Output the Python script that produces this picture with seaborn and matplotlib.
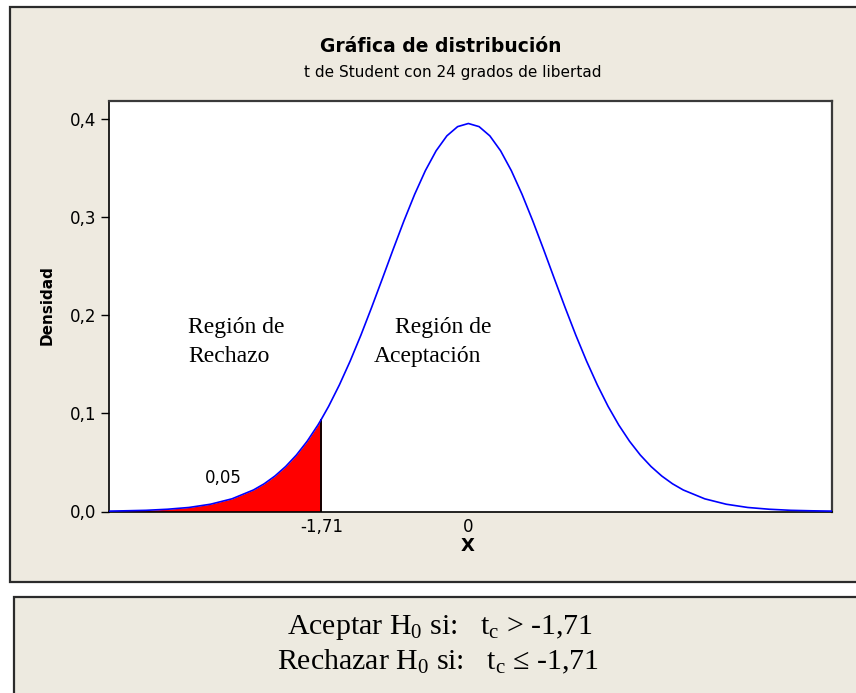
import matplotlib
matplotlib.use("Agg")
import matplotlib.pyplot as plt
import seaborn as sns
from matplotlib.patches import Rectangle

# ---------------- data ----------------
t_values = [-4.18, -4.0, -3.75, -3.5, -3.25, -3.0, -2.75, -2.5, -2.375, -2.25,
            -2.125, -2.0, -1.875, -1.75, -1.71, -1.625, -1.5, -1.375, -1.25,
            -1.125, -1.0, -0.875, -0.75, -0.625, -0.5, -0.375, -0.25, -0.125,
            0.0, 0.125, 0.25, 0.375, 0.5, 0.625, 0.75, 0.875, 1.0, 1.125, 1.25,
            1.375, 1.5, 1.625, 1.75, 1.875, 2.0, 2.125, 2.25, 2.375, 2.5, 2.75,
            3.0, 3.25, 3.5, 3.75, 4.0, 4.23]
density = [0.0004, 0.0007, 0.0012, 0.0023, 0.0041, 0.0074, 0.0129, 0.0219, 0.0282, 0.0361,
           0.0458, 0.0575, 0.0715, 0.0880, 0.0939, 0.1071, 0.1289, 0.1531, 0.1795,
           0.2078, 0.2371, 0.2668, 0.2957, 0.3228, 0.3470, 0.3672, 0.3824, 0.3918,
           0.3950, 0.3918, 0.3824, 0.3672, 0.3470, 0.3228, 0.2957, 0.2668, 0.2371, 0.2078, 0.1795,
           0.1531, 0.1289, 0.1071, 0.0880, 0.0715, 0.0575, 0.0458, 0.0361, 0.0282, 0.0219, 0.0129,
           0.0074, 0.0041, 0.0023, 0.0012, 0.0007, 0.0004]
critical_t = -1.71
alpha_text = "0,05"
x_tick_values = [-1.71, 0]
x_tick_labels = ["-1,71", "0"]
y_tick_values = [0.0, 0.1, 0.2, 0.3, 0.4]
y_tick_labels = ["0,0", "0,1", "0,2", "0,3", "0,4"]

title_text = "Gráfica de distribución"
subtitle_text = "t de Student con 24 grados de libertad"
ylabel_text = "Densidad"
xlabel_text = "X"

# ---------------- style ----------------
sns.set_style("white")
plt.rcParams["font.family"] = ["DejaVu Sans"]
plt.rcParams["text.color"] = "black"
plt.rcParams["xtick.color"] = "black"
plt.rcParams["ytick.color"] = "black"
plt.rcParams["axes.labelcolor"] = "black"
plt.rcParams["mathtext.fontset"] = "custom"
plt.rcParams["mathtext.rm"] = "Liberation Serif"
plt.rcParams["mathtext.it"] = "Liberation Serif:italic"
plt.rcParams["mathtext.bf"] = "Liberation Serif:bold"

W, H = 856, 693
BEIGE = "#EEEAE0"
BEIGE2 = "#EDEAE0"

def fx(px):
    return px / W

def fy(py):
    return 1 - py / H

fig = plt.figure(figsize=(W / 100, H / 100), dpi=100)
fig.patch.set_facecolor("white")

# outer graph frame
fig.add_artist(Rectangle((fx(10), fy(582)), 1.2, fy(7) - fy(582),
                         transform=fig.transFigure, facecolor=BEIGE,
                         edgecolor="#2b2b2b", lw=1.6, zorder=-2))
# bottom text box
fig.add_artist(Rectangle((fx(14), fy(760)), 1.2, fy(597) - fy(760),
                         transform=fig.transFigure, facecolor=BEIGE2,
                         edgecolor="#2b2b2b", lw=1.6, zorder=-2))

ax = fig.add_axes([fx(109), fy(511.5), fx(832) - fx(109), fy(100.7) - fy(511.5)])
ax.set_facecolor("white")

# rejection region
t_rej = [t for t in t_values if t <= critical_t]
d_rej = [d for t, d in zip(t_values, density) if t <= critical_t]
ax.fill_between(t_rej, 0, d_rej, color="#FF0000", lw=0, zorder=2)
ax.vlines(critical_t, 0, d_rej[-1], color="black", lw=1.3, zorder=3)

sns.lineplot(x=t_values, y=density, color="#0000FF", lw=1.2, ax=ax, zorder=4)

ax.set_xlim(t_values[0], t_values[-1])
ax.set_ylim(0, 0.4182)
ax.set_xticks(x_tick_values, x_tick_labels)
ax.set_yticks(y_tick_values, y_tick_labels)
ax.tick_params(axis="x", bottom=False, length=0, pad=5, labelsize=12, labelcolor="black")
ax.tick_params(axis="y", left=True, length=5.5, width=1.0, pad=3.5,
               direction="out", labelsize=12, color="black", labelcolor="black")
ax.set_xlabel("")
ax.set_ylabel("")

for side in ["left", "bottom"]:
    ax.spines[side].set_color("black")
    ax.spines[side].set_linewidth(1.2)
for side in ["top", "right"]:
    ax.spines[side].set_color("#3a3a3a")
    ax.spines[side].set_linewidth(1.6)

# titles and labels
fig.text(fx(441), fy(47), title_text, ha="center", va="center",
         fontsize=13.5, fontweight="bold", color="black")
fig.text(fx(453), fy(73), subtitle_text, ha="center", va="center", fontsize=11, color="black")
fig.text(fx(47.5), fy(305), ylabel_text, rotation=90, ha="center", va="center",
         fontsize=11, fontweight="bold", color="black")
fig.text(fx(468), fy(546), xlabel_text, ha="center", va="center",
         fontsize=13, fontweight="bold", color="black")
fig.text(fx(223), fy(478), alpha_text, ha="center", va="center", fontsize=12, color="black")

serif = "Liberation Serif"
fig.text(fx(188), fy(333), "Región de", ha="left", va="baseline", fontsize=17, family=serif, color="black")
fig.text(fx(188), fy(362), "Rechazo", ha="left", va="baseline", fontsize=17, family=serif, color="black")
fig.text(fx(395), fy(333), "Región de", ha="left", va="baseline", fontsize=17, family=serif, color="black")
fig.text(fx(374), fy(362), "Aceptación", ha="left", va="baseline", fontsize=17, family=serif, color="black")

fig.text(fx(440), fy(634), r"Aceptar H$_\mathrm{0}$ si:   t$_\mathrm{c}$ > -1,71",
         ha="center", va="baseline", fontsize=21.5, family=serif, color="black")
fig.text(fx(438), fy(669), r"Rechazar H$_\mathrm{0}$ si:   t$_\mathrm{c}$ ≤ -1,71",
         ha="center", va="baseline", fontsize=21.5, family=serif, color="black")

fig.savefig("out.png", dpi=100, facecolor="white")
